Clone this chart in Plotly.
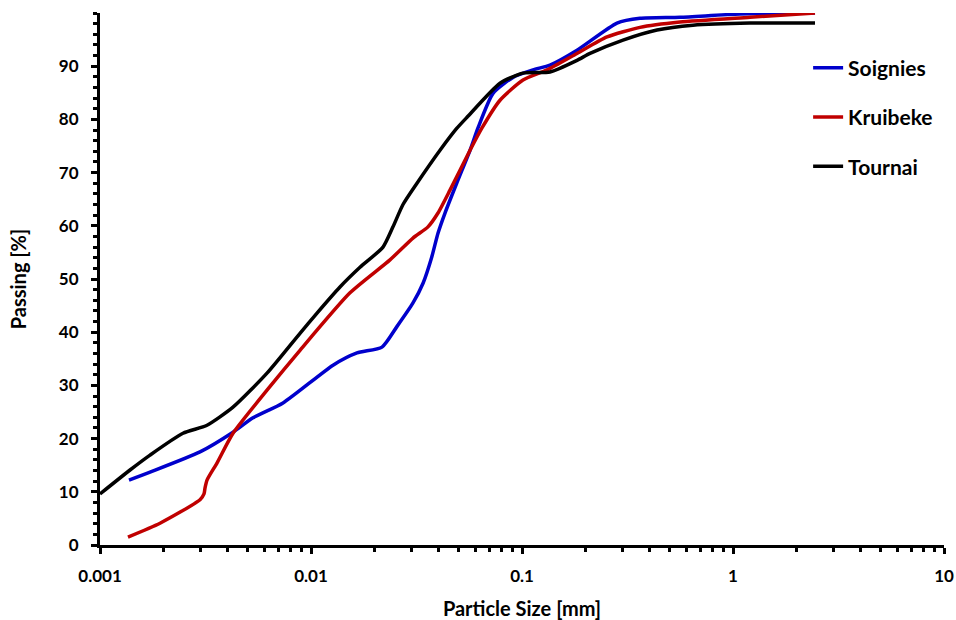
import plotly.graph_objects as go

# Particle size [mm] and passing [%]
soignies_x = [0.001372, 0.001726, 0.002978, 0.004269, 0.005310, 0.007367, 0.01272, 0.01652,
              0.02170, 0.02548, 0.03043, 0.03396, 0.03733, 0.03998, 0.04316, 0.04903, 0.05671,
              0.06186, 0.07288, 0.09064, 0.1127, 0.1357, 0.1823, 0.2819, 0.3623, 0.5609,
              1.079, 2.447]
soignies_y = [12.2, 13.7, 17.5, 21.2, 23.9, 26.7, 33.8, 36.1, 37.2, 41.0, 45.5, 49.2, 54.1,
              58.6, 62.4, 68.0, 74.2, 78.4, 84.9, 87.9, 89.3, 90.2, 93.0, 98.1, 99.0, 99.2,
              99.8, 100.0]

kruibeke_x = [0.001357, 0.001925, 0.002978, 0.003111, 0.003145, 0.003215, 0.003584, 0.004269,
              0.006187, 0.008868, 0.01530, 0.02368, 0.03043, 0.03584, 0.03998, 0.04558,
              0.05671, 0.06462, 0.07865, 0.1011, 0.1314, 0.1823, 0.2529, 0.3623, 0.5609,
              1.204, 2.447]
kruibeke_y = [1.5, 4.1, 8.5, 9.6, 10.7, 12.2, 15.4, 21.0, 29.1, 36.6, 47.4, 53.6, 57.7, 59.8,
              62.4, 66.7, 74.2, 78.4, 83.6, 87.4, 89.3, 92.4, 95.5, 97.3, 98.3, 99.2, 100.0]

tournai_x = [0.001, 0.001388, 0.001726, 0.002474, 0.003215, 0.004269, 0.006187, 0.008868,
             0.01068, 0.01372, 0.01707, 0.02194, 0.02446, 0.02729, 0.03179, 0.04087, 0.04903,
             0.05487, 0.07865, 0.1011, 0.1357, 0.1823, 0.2101, 0.3011, 0.4363, 0.6461,
             1.204, 2.447]
tournai_y = [9.6, 14.1, 16.9, 21.0, 22.5, 25.9, 32.3, 39.8, 43.6, 48.5, 52.2, 56.0, 59.8, 64.0,
             68.0, 74.2, 78.3, 80.4, 86.8, 88.7, 88.9, 91.1, 92.4, 94.9, 96.8, 97.7, 98.1, 98.1]

series_names = ["Soignies", "Kruibeke", "Tournai"]
series_colors = ["#0000CC", "#C00000", "#000000"]

x_tick_vals = [0.001, 0.01, 0.1, 1, 10]
x_tick_text = ["0.001", "0.01", "0.1", "1", "10"]
y_tick_vals = [0, 10, 20, 30, 40, 50, 60, 70, 80, 90]

FONT = "Lato, 'Open Sans', sans-serif"

fig = go.Figure()
for name, color, xs, ys in zip(series_names, series_colors,
                               [soignies_x, kruibeke_x, tournai_x],
                               [soignies_y, kruibeke_y, tournai_y]):
    fig.add_trace(go.Scatter(
        x=xs, y=ys, mode="lines", name=name, legendgroup=name,
        line=dict(color=color, width=3.5, shape="spline", smoothing=0.6),
    ))

minor_x = [m * 10.0 ** e for e in range(-3, 1) for m in range(2, 10)]

fig.update_layout(
    width=956, height=620,
    margin=dict(l=100, r=12, t=13, b=75),
    paper_bgcolor="white", plot_bgcolor="white",
    font=dict(family=FONT, color="black", size=17),
    showlegend=True,
    legend=dict(
        x=0.839, y=0.935, xanchor="left", yanchor="top",
        font=dict(family=FONT, size=21, color="black", weight="bold"),
        bgcolor="rgba(0,0,0,0)", tracegroupgap=19,
    ),
    xaxis=dict(
        type="log", range=[-3, 1], automargin=False,
        tickvals=x_tick_vals, ticktext=x_tick_text,
        showline=True, linecolor="black", linewidth=3,
        ticks="outside", ticklen=6, tickwidth=3, tickcolor="black",
        ticklabelstandoff=8, ticklabeloverflow="allow",
        showgrid=False, zeroline=False,
        tickfont=dict(family=FONT, size=17, color="black", weight="bold"),
        title=dict(text="Particle Size [mm]", standoff=18,
                   font=dict(family=FONT, size=20, color="black", weight="bold")),
        minor=dict(tickvals=minor_x, ticks="outside", ticklen=4, tickwidth=3,
                   tickcolor="black", showgrid=False),
    ),
    yaxis=dict(
        range=[0, 100], tickvals=y_tick_vals, automargin=False,
        showline=True, linecolor="black", linewidth=3,
        ticks="outside", ticklen=6, tickwidth=3, tickcolor="black",
        ticklabelstandoff=9,
        showgrid=False, zeroline=False,
        tickfont=dict(family=FONT, size=17, color="black", weight="bold"),
        title=dict(text="Passing [%]", standoff=27,
                   font=dict(family=FONT, size=20, color="black", weight="bold")),
        minor=dict(dtick=2, ticks="outside", ticklen=4, tickwidth=3,
                   tickcolor="black", showgrid=False),
    ),
)

fig.write_html("out.html", config={"displayModeBar": False},
               post_script="document.body.style.margin='0';document.body.style.overflow='hidden';")
